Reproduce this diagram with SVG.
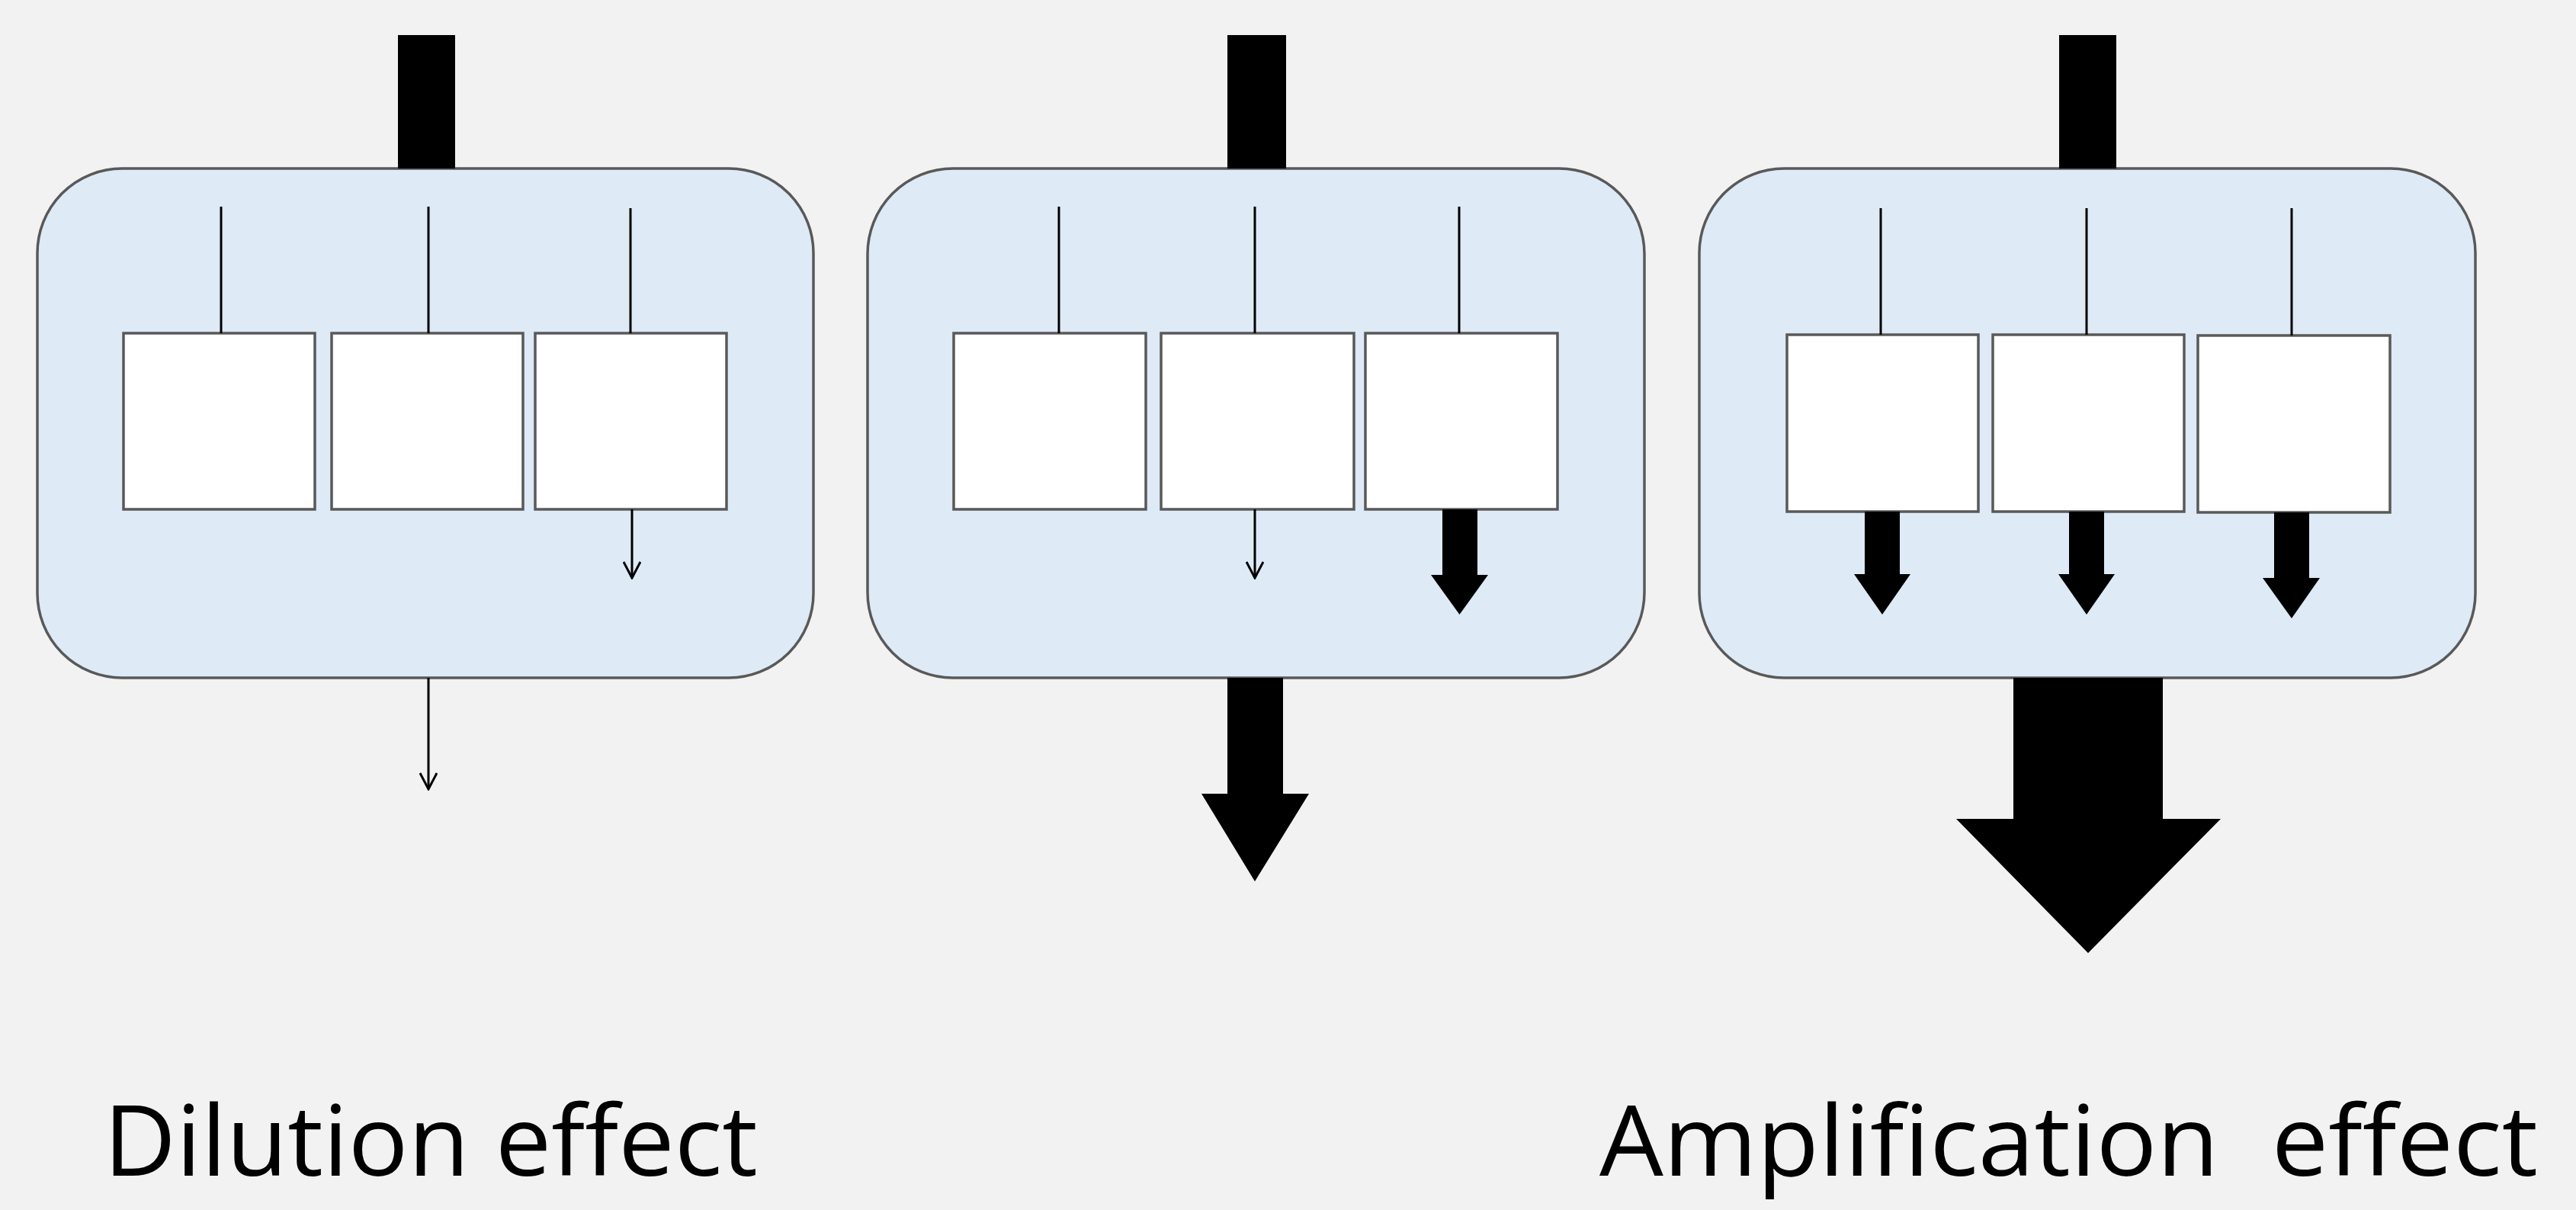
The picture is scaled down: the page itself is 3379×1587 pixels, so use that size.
<svg xmlns="http://www.w3.org/2000/svg" width="3379" height="1587" viewBox="0 0 3379 1587">
<style>
.bg{fill:#F2F2F2}
.panel{fill:#DEEAF6;stroke:#595959;stroke-width:3.5}
.box{fill:#FFFFFF;stroke:#595959;stroke-width:3.5}
.thin{stroke:#000;stroke-width:3;fill:none}
.thick{fill:#000}
.label{font-family:"Open Sans","Noto Sans","Liberation Sans",sans-serif;font-size:128px;fill:#000}
</style>
<defs>
<marker id="open" viewBox="0 0 24 24" refX="22" refY="12" markerWidth="24" markerHeight="24" markerUnits="userSpaceOnUse" orient="auto">
<path d="M1,1 L22,12 L1,23" fill="none" stroke="#000" stroke-width="3"/>
</marker>
</defs>
<rect class="bg" x="0" y="0" width="3379" height="1587"/>

<g id="panel-dilution">
<rect class="panel" x="49" y="221" width="1018" height="668" rx="111" ry="111"/>
<rect class="box" x="162" y="437" width="251" height="231"/>
<rect class="box" x="435" y="437" width="251" height="231"/>
<rect class="box" x="702" y="437" width="251" height="231"/>
</g>
<g id="panel-middle">
<rect class="panel" x="1138" y="221" width="1019" height="668" rx="112" ry="112"/>
<rect class="box" x="1251" y="437" width="252" height="231"/>
<rect class="box" x="1523" y="437" width="253" height="231"/>
<rect class="box" x="1791" y="437" width="252" height="231"/>
</g>
<g id="panel-amplification">
<rect class="panel" x="2229" y="221" width="1018" height="668" rx="111" ry="111"/>
<rect class="box" x="2344" y="439" width="251" height="232"/>
<rect class="box" x="2614" y="439" width="251" height="232"/>
<rect class="box" x="2883" y="440" width="252" height="232"/>
</g>

<g id="connectors">
<rect class="thick" x="522" y="46" width="75" height="175"/>
<rect class="thick" x="1610" y="46" width="77" height="175"/>
<rect class="thick" x="2701" y="46" width="75" height="175"/>
<line class="thin" x1="290" y1="271" x2="290" y2="437"/>
<line class="thin" x1="562" y1="271" x2="562" y2="437"/>
<line class="thin" x1="827" y1="273" x2="827" y2="437"/>
<line class="thin" x1="829" y1="668" x2="829" y2="758" marker-end="url(#open)"/>
<line class="thin" x1="562" y1="889" x2="562" y2="1035" marker-end="url(#open)"/>
<line class="thin" x1="1389" y1="271" x2="1389" y2="437"/>
<line class="thin" x1="1646" y1="271" x2="1646" y2="437"/>
<line class="thin" x1="1914" y1="271" x2="1914" y2="437"/>
<line class="thin" x1="1646" y1="668" x2="1646" y2="758" marker-end="url(#open)"/>
<polygon class="thick" points="1892,668 1938,668 1938,754 1952,754 1914.5,806 1877,754 1892,754"/>
<polygon class="thick" points="1610,889 1683,889 1683,1041 1717,1041 1646,1156 1576,1041 1610,1041"/>
<line class="thin" x1="2467" y1="273" x2="2467" y2="439"/>
<line class="thin" x1="2737" y1="273" x2="2737" y2="439"/>
<line class="thin" x1="3006" y1="273" x2="3006" y2="440"/>
<polygon class="thick" points="2446,671 2492,671 2492,753 2506,753 2469,806 2432,753 2446,753"/>
<polygon class="thick" points="2714,671 2760,671 2760,753 2774,753 2737,806 2700,753 2714,753"/>
<polygon class="thick" points="2983,672 3029,672 3029,758 3043,758 3006,811 2968,758 2983,758"/>
<polygon class="thick" points="2641,889 2837,889 2837,1074 2913,1074 2739,1250 2566,1074 2641,1074"/>
</g>

<text class="label" x="136" y="1542" textLength="858" lengthAdjust="spacingAndGlyphs">Dilution effect</text>
<text class="label" x="2098" y="1542" textLength="1231" lengthAdjust="spacingAndGlyphs" xml:space="preserve">Amplification  effect</text>
</svg>
